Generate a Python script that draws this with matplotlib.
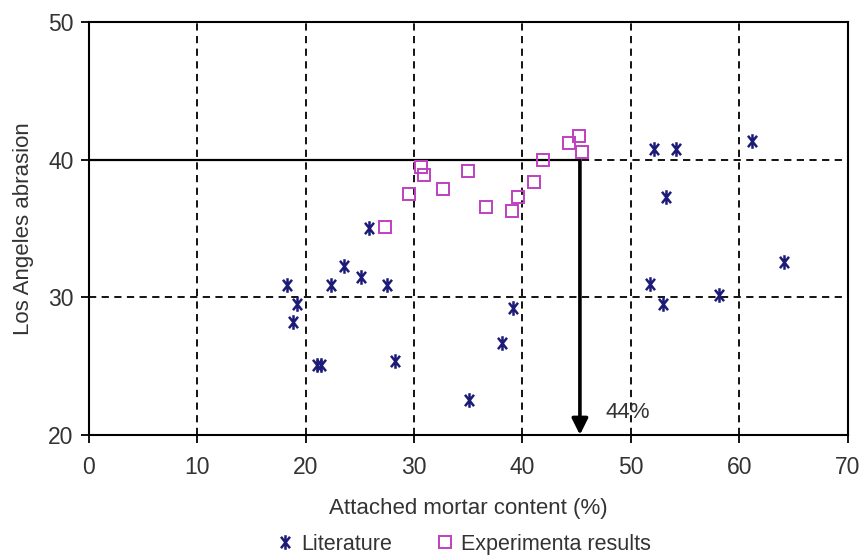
import matplotlib
matplotlib.use("Agg")
import matplotlib.pyplot as plt
from matplotlib.path import Path

plt.rcParams['font.family'] = ['Liberation Sans', 'DejaVu Sans']

# Literature data: attached mortar content (%) vs Los Angeles abrasion
lit_x = [18.3, 19.2, 18.85, 21.0, 21.4, 22.3, 23.5, 25.1, 25.8, 27.5, 28.2,
         35.1, 38.1, 39.1, 51.8, 52.1, 53.0, 53.2, 54.2, 58.1, 61.2, 64.1]
lit_y = [30.9, 29.5, 28.2, 25.1, 25.1, 30.9, 32.3, 31.5, 35.05, 30.9, 25.4,
         22.5, 26.7, 29.2, 31.0, 40.8, 29.5, 37.3, 40.8, 30.2, 41.4, 32.6]

# Experimental results
exp_x = [27.3, 29.5, 30.6, 30.9, 32.7, 35.0, 36.6, 39.0, 39.6, 41.05, 41.9,
         44.3, 45.2, 45.5]
exp_y = [35.1, 37.5, 39.5, 38.9, 37.9, 39.2, 36.6, 36.3, 37.3, 38.4, 40.0,
         41.2, 41.7, 40.6]

x_ticks = [0, 10, 20, 30, 40, 50, 60, 70]
y_ticks = [20, 30, 40, 50]
limit_x = 45.3
limit_y = 40
limit_label = "44%"

navy = "#1c1c78"
magenta = "#c040c0"
text_grey = "#333333"

# six-armed asterisk: vertical stroke plus a steep X
ast = Path([(0, -1), (0, 1), (-0.62, -0.78), (0.62, 0.78), (-0.62, 0.78), (0.62, -0.78)],
           [Path.MOVETO, Path.LINETO, Path.MOVETO, Path.LINETO, Path.MOVETO, Path.LINETO])

fig = plt.figure(figsize=(8.64, 5.56), dpi=100)
ax = fig.add_axes([0.103, 0.218, 0.878, 0.742])

ax.set_xlim(0, 70)
ax.set_ylim(20, 50)
ax.set_xticks(x_ticks)
ax.set_yticks(y_ticks)
ax.tick_params(direction='out', length=6, width=1.3, labelsize=16.5, colors='black',
               labelcolor=text_grey)
ax.tick_params(axis='x', pad=9)
ax.tick_params(axis='y', pad=5)

for v in x_ticks[1:-1]:
    ax.axvline(v, color='black', lw=1.3, ls=(0, (4, 3)), zorder=1)
for h in [30, 40]:
    ax.axhline(h, color='black', lw=1.3, ls=(0, (4, 3)), zorder=1)

for s in ax.spines.values():
    s.set_linewidth(1.5)
    s.set_color('black')

# threshold: horizontal at 40 then arrow down to the axis
ax.plot([0, limit_x], [limit_y, limit_y], color='black', lw=1.6, zorder=2)
ax.annotate('', xy=(limit_x, 20), xytext=(limit_x, limit_y),
            arrowprops=dict(arrowstyle='-|>', color='black', lw=2.6,
                            mutation_scale=24, shrinkA=0, shrinkB=0),
            zorder=3)
ax.text(47.7, 21.6, limit_label, fontsize=16, color=text_grey, va='center', ha='left')

ax.plot(lit_x, lit_y, ls='none', marker=ast, markersize=10.5, markeredgewidth=1.8,
        color=navy, label='Literature', zorder=4)
ax.plot(exp_x, exp_y, ls='none', marker='s', markersize=8, markerfacecolor='none',
        markeredgewidth=1.4, markeredgecolor=magenta, label='Experimenta results', zorder=4)

ax.set_xlabel('Attached mortar content (%)', fontsize=16, color=text_grey, labelpad=14)
ax.set_ylabel('Los Angeles abrasion', fontsize=16, color=text_grey, labelpad=10)

fig.legend(loc='lower center', bbox_to_anchor=(0.537, -0.033), ncol=2, frameon=False,
           fontsize=15.5, handlelength=0.7, handletextpad=0.4, columnspacing=2.1,
           labelcolor=text_grey)

fig.savefig('out.png', dpi=100)
